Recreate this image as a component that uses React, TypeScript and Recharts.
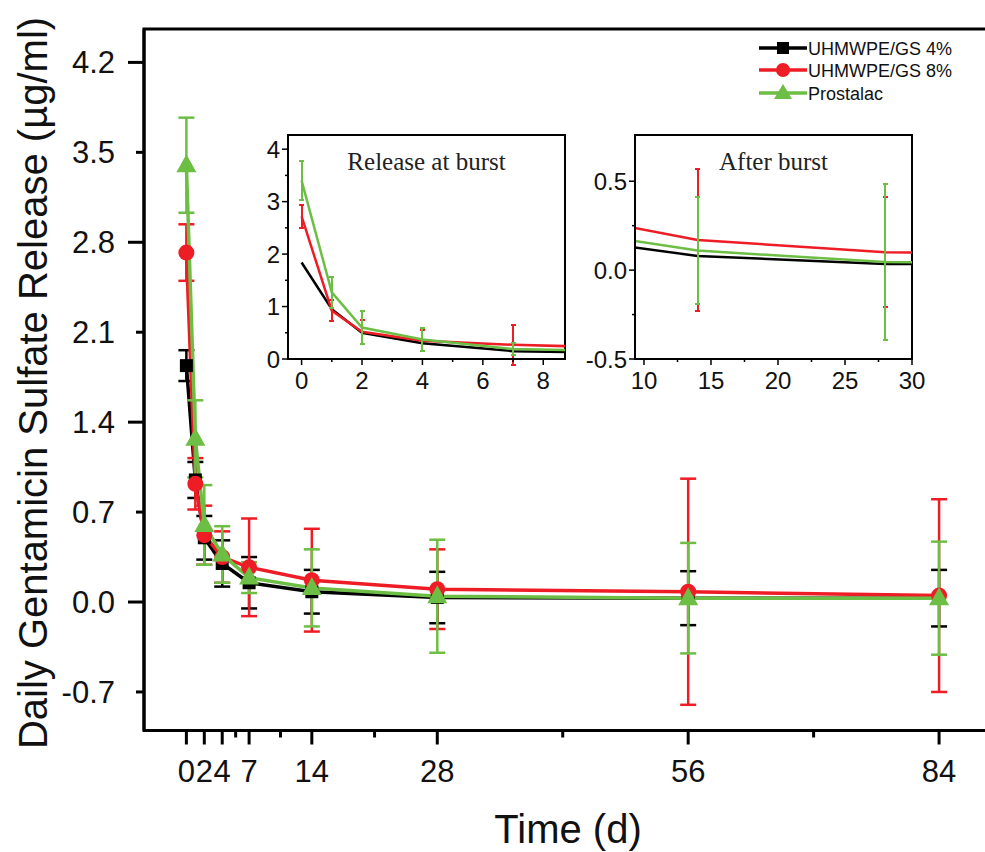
import React from 'react';
import { LineChart, Line, XAxis, YAxis, ErrorBar, ReferenceArea } from 'recharts';

// sampling days
const days = [0, 1, 2, 4, 7, 14, 28, 56, 84];

// daily release, µg/ml
const gs4 = [1.84, 0.95, 0.5, 0.3, 0.15, 0.08, 0.035, 0.03, 0.03];
const gs4Err = [0.12, 0.14, 0.17, 0.18, 0.2, 0.17, 0.2, 0.21, 0.22];
const gs8 = [2.72, 0.92, 0.52, 0.35, 0.27, 0.17, 0.1, 0.08, 0.05];
const gs8Err = [0.22, 0.2, 0.23, 0.2, 0.38, 0.4, 0.31, 0.88, 0.75];
const prostalac = [3.4, 1.27, 0.6, 0.37, 0.19, 0.11, 0.045, 0.03, 0.03];
const prostalacErr = [0.37, 0.3, 0.31, 0.22, 0.12, 0.3, 0.44, 0.43, 0.44];

// main axes ticks
const mainXTicks = [0, 2, 4, 5.5, 7, 10.5, 14, 21, 28, 42, 56, 70, 84];
const mainXLabels = [0, 2, 4, 7, 14, 28, 56, 84];
const mainYTicks = [-0.7, 0, 0.7, 1.4, 2.1, 2.8, 3.5, 4.2];
const mainYLong = [0, 1.4, 2.8, 4.2];

// inset ticks
const burstXTicks = [0, 1, 2, 3, 4, 5, 6, 7, 8];
const burstXLabels = [0, 2, 4, 6, 8];
const burstYTicks = [0, 0.5, 1, 1.5, 2, 2.5, 3, 3.5, 4];
const burstYLabels = [0, 1, 2, 3, 4];
const afterXTicks = [10, 12.5, 15, 17.5, 20, 22.5, 25, 27.5, 30];
const afterXLabels = [10, 15, 20, 25, 30];
const afterYTicks = [-0.5, -0.25, 0, 0.25, 0.5];
const afterYLabels = [-0.5, 0, 0.5];

const BLACK = '#000000';
const RED = '#EE1C25';
const GREEN = '#6DBE45';
const SANS = '"Liberation Sans", Arial, sans-serif';
const SERIF = '"Liberation Serif", "Times New Roman", serif';

const has = (list: number[], v: number) => list.some((m) => Math.abs(m - v) < 1e-6);

type TickCfg = {
  side: 'bottom' | 'left';
  labels: number[];
  long: number[];
  longLen: number;
  shortLen: number;
  fontSize: number;
  offset: number;
  dy: number;
  width: number;
  fmt: (v: number) => string;
};

function makeTick(c: TickCfg) {
  return (props: any) => {
    const { x, y, payload } = props;
    const v = payload.value as number;
    const len = has(c.long, v) ? c.longLen : c.shortLen;
    const show = has(c.labels, v);
    if (c.side === 'bottom') {
      return (
        <g>
          <line x1={x} x2={x} y1={y} y2={y + len} stroke="#000" strokeWidth={c.width} />
          {show && (
            <text x={x} y={y + c.offset} textAnchor="middle" fontSize={c.fontSize} fontFamily={SANS} fill="#111">
              {c.fmt(v)}
            </text>
          )}
        </g>
      );
    }
    return (
      <g>
        <line x1={x - len} x2={x} y1={y} y2={y} stroke="#000" strokeWidth={c.width} />
        {show && (
          <text x={x - c.offset} y={y + c.dy} textAnchor="end" fontSize={c.fontSize} fontFamily={SANS} fill="#111">
            {c.fmt(v)}
          </text>
        )}
      </g>
    );
  };
}

const SquareDot = (p: any) =>
  p.cx == null ? null : <rect x={p.cx - 6.5} y={p.cy - 6.5} width={13} height={13} fill={BLACK} />;
const CircleDot = (p: any) => (p.cx == null ? null : <circle cx={p.cx} cy={p.cy} r={8} fill={RED} />);
const TriangleDot = (p: any) =>
  p.cx == null ? null : (
    <polygon points={`${p.cx},${p.cy - 11} ${p.cx - 10},${p.cy + 7} ${p.cx + 10},${p.cy + 7}`} fill={GREEN} />
  );

const mainData = days.map((day, i) => ({
  day,
  gs4: gs4[i],
  gs4Err: gs4Err[i],
  gs8: gs8[i],
  gs8Err: gs8Err[i],
  pro: prostalac[i],
  proErr: prostalacErr[i],
}));

// insets: same data, error bars only for 8% and Prostalac inside the visible window
const burstData = days
  .filter((d) => d <= 14)
  .map((day) => {
    const i = days.indexOf(day);
    const inView = day <= 8;
    return {
      day,
      gs4: gs4[i],
      gs8: gs8[i],
      gs8Err: inView ? gs8Err[i] : undefined,
      pro: prostalac[i],
      proErr: inView ? prostalacErr[i] : undefined,
    };
  });

const afterData = days
  .filter((d) => d >= 7 && d <= 56)
  .map((day) => {
    const i = days.indexOf(day);
    const inView = day >= 10 && day <= 30;
    return {
      day,
      gs4: gs4[i],
      gs8: gs8[i],
      gs8Err: inView ? gs8Err[i] : undefined,
      pro: prostalac[i],
      proErr: inView ? prostalacErr[i] : undefined,
    };
  });

const MAIN_X: [number, number] = [-4.73, 90.8];
const MAIN_Y: [number, number] = [-1.0, 4.46];
const BURST_X: [number, number] = [-0.45, 8.72];
const BURST_Y: [number, number] = [0, 4.27];
const AFTER_X: [number, number] = [9.33, 30];
const AFTER_Y: [number, number] = [-0.5, 0.76];

function Inset({
  data,
  xDomain,
  yDomain,
  xTicks,
  yTicks,
  xLabels,
  yLabels,
  yFmt,
  title,
  left,
  yWidth,
}: any) {
  const xTick = makeTick({
    side: 'bottom', labels: xLabels, long: xLabels, longLen: 6, shortLen: 3,
    fontSize: 24, offset: 30, dy: 0, width: 1.5, fmt: (v) => String(v),
  });
  const yTick = makeTick({
    side: 'left', labels: yLabels, long: yLabels, longLen: 6, shortLen: 3,
    fontSize: 24, offset: 8, dy: 8.5, width: 1.5, fmt: yFmt,
  });
  const axisLine = { stroke: '#000', strokeWidth: 2 };
  return (
    <div style={{ position: 'absolute', left, top: 130 }}>
      <LineChart width={yWidth + 277 + 25} height={269} data={data} margin={{ top: 5, right: 25, left: 0, bottom: 0 }}>
        <ReferenceArea
          x1={xDomain[0]} x2={xDomain[1]} y1={yDomain[0]} y2={yDomain[1]} ifOverflow="visible"
          fill="#fff" fillOpacity={1} stroke="#000" strokeWidth={2}
        />
        <XAxis
          type="number" dataKey="day" domain={xDomain} allowDataOverflow ticks={xTicks} interval={0}
          tick={xTick} tickLine={false} tickSize={0} tickMargin={0} height={40} axisLine={axisLine}
        />
        <YAxis
          type="number" domain={yDomain} allowDataOverflow ticks={yTicks} interval={0}
          tick={yTick} tickLine={false} tickSize={0} tickMargin={0} width={yWidth} axisLine={axisLine}
        />
        <Line dataKey="gs4" stroke={BLACK} strokeWidth={2.5} dot={false} activeDot={false} isAnimationActive={false} />
        <Line dataKey="gs8" stroke={RED} strokeWidth={2.5} dot={false} activeDot={false} isAnimationActive={false}>
          <ErrorBar dataKey="gs8Err" direction="y" width={2.5} stroke={RED} strokeWidth={2}
            shapeRendering="crispEdges" isAnimationActive={false} />
        </Line>
        <Line dataKey="pro" stroke={GREEN} strokeWidth={2.5} dot={false} activeDot={false} isAnimationActive={false}>
          <ErrorBar dataKey="proErr" direction="y" width={2.5} stroke={GREEN} strokeWidth={2}
            shapeRendering="crispEdges" isAnimationActive={false} />
        </Line>
      </LineChart>
      <div
        style={{
          position: 'absolute', left: yWidth, width: 277, top: 18, textAlign: 'center',
          fontFamily: SERIF, fontSize: 25, color: '#222',
        }}
      >
        {title}
      </div>
    </div>
  );
}

const legendItems = [
  { label: 'UHMWPE/GS 4%', color: BLACK, shape: 'square' },
  { label: 'UHMWPE/GS 8%', color: RED, shape: 'circle' },
  { label: 'Prostalac', color: GREEN, shape: 'triangle' },
];

function Legend() {
  const rows = [48, 70, 93];
  return (
    <svg style={{ position: 'absolute', left: 750, top: 30 }} width={230} height={80}>
      {legendItems.map((it, i) => {
        const y = rows[i] - 30;
        return (
          <g key={it.label}>
            <line x1={9} x2={57} y1={y} y2={y} stroke={it.color} strokeWidth={3.5} />
            {it.shape === 'square' && <rect x={27} y={y - 6} width={12} height={12} fill={it.color} />}
            {it.shape === 'circle' && <circle cx={33} cy={y} r={7} fill={it.color} />}
            {it.shape === 'triangle' && (
              <polygon points={`33,${y - 9} 24,${y + 6} 42,${y + 6}`} fill={it.color} />
            )}
            <text x={58} y={y + 6.5} fontSize={18} fontFamily={SANS} fill="#111">
              {it.label}
            </text>
          </g>
        );
      })}
    </svg>
  );
}

export default function App() {
  const xTick = makeTick({
    side: 'bottom', labels: mainXLabels, long: mainXLabels, longLen: 14, shortLen: 7,
    fontSize: 31, offset: 51.5, dy: 0, width: 3, fmt: (v) => String(v),
  });
  const yTick = makeTick({
    side: 'left', labels: mainYTicks, long: mainYLong, longLen: 16, shortLen: 8,
    fontSize: 31, offset: 29, dy: 11, width: 3, fmt: (v) => v.toFixed(1),
  });
  const axisLine = { stroke: '#000', strokeWidth: 3 };

  return (
    <div
      style={{
        position: 'absolute', left: 0, top: 0, width: 985, height: 852, overflow: 'hidden',
        background: '#fff', fontFamily: SANS,
      }}
    >
      <LineChart width={1010} height={852} data={mainData} margin={{ top: 29, right: 10, left: 44, bottom: 51.5 }}>
        <ReferenceArea
          x1={MAIN_X[0]} x2={MAIN_X[1]} y1={MAIN_Y[0]} y2={MAIN_Y[1]} ifOverflow="visible"
          fill="none" stroke="#000" strokeWidth={3}
        />
        <XAxis
          type="number" dataKey="day" domain={MAIN_X} allowDataOverflow ticks={mainXTicks} interval={0}
          tick={xTick} tickLine={false} tickSize={0} tickMargin={0} height={70} axisLine={axisLine}
        />
        <YAxis
          type="number" domain={MAIN_Y} allowDataOverflow ticks={mainYTicks} interval={0}
          tick={yTick} tickLine={false} tickSize={0} tickMargin={0} width={100} axisLine={axisLine}
        />
        <Line dataKey="gs4" stroke={BLACK} strokeWidth={3.5} dot={SquareDot} activeDot={false} isAnimationActive={false}>
          <ErrorBar dataKey="gs4Err" direction="y" width={8} stroke={BLACK} strokeWidth={2.5} isAnimationActive={false} />
        </Line>
        <Line dataKey="gs8" stroke={RED} strokeWidth={3.5} dot={CircleDot} activeDot={false} isAnimationActive={false}>
          <ErrorBar dataKey="gs8Err" direction="y" width={8} stroke={RED} strokeWidth={2.5} isAnimationActive={false} />
        </Line>
        <Line dataKey="pro" stroke={GREEN} strokeWidth={3.5} dot={TriangleDot} activeDot={false} isAnimationActive={false}>
          <ErrorBar dataKey="proErr" direction="y" width={8} stroke={GREEN} strokeWidth={2.5} isAnimationActive={false} />
        </Line>
      </LineChart>

      <Inset
        data={burstData} xDomain={BURST_X} yDomain={BURST_Y} xTicks={burstXTicks} yTicks={burstYTicks}
        xLabels={burstXLabels} yLabels={burstYLabels} yFmt={(v: number) => String(v)}
        title="Release at burst" left={238} yWidth={50}
      />
      <Inset
        data={afterData} xDomain={AFTER_X} yDomain={AFTER_Y} xTicks={afterXTicks} yTicks={afterYTicks}
        xLabels={afterXLabels} yLabels={afterYLabels} yFmt={(v: number) => v.toFixed(1)}
        title="After burst" left={575} yWidth={60}
      />

      <Legend />

      <div
        style={{
          position: 'absolute', left: 568, top: 806, transform: 'translateX(-50%)',
          fontSize: 40, lineHeight: '46px', color: '#111', whiteSpace: 'nowrap',
        }}
      >
        Time (d)
      </div>
      <div
        style={{
          position: 'absolute', left: 33, top: 383, transform: 'translate(-50%, -50%) rotate(-90deg)',
          fontSize: 40, lineHeight: '46px', color: '#111', whiteSpace: 'nowrap',
        }}
      >
        Daily Gentamicin Sulfate Release (µg/ml)
      </div>
    </div>
  );
}
